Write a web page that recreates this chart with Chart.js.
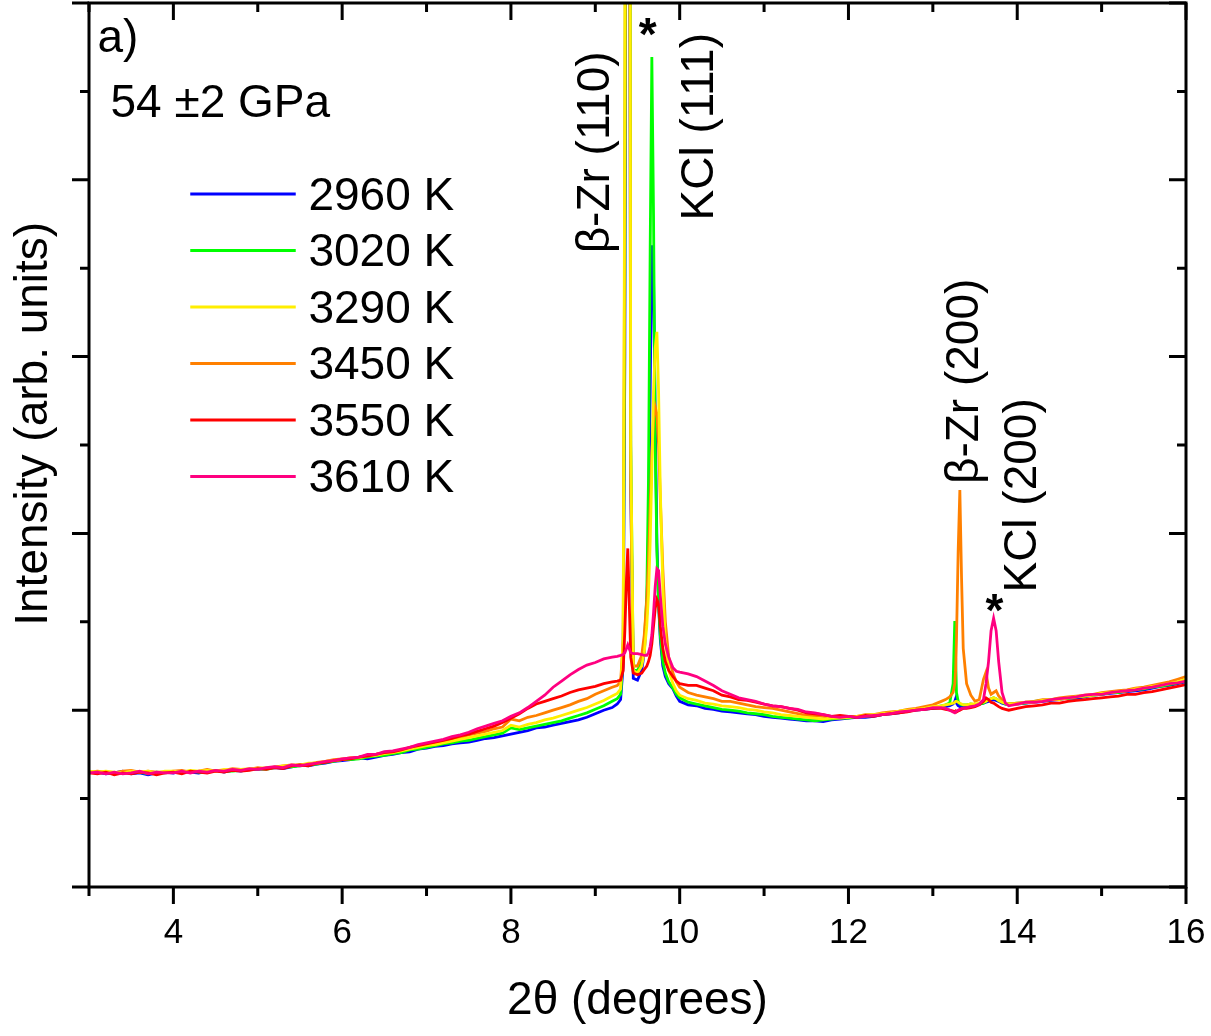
<!DOCTYPE html>
<html>
<head>
<meta charset="utf-8">
<script src="https://cdn.jsdelivr.net/npm/chart.js@4/dist/chart.umd.min.js"></script>
<style>
  html, body { margin: 0; padding: 0; background: #fff; }
  canvas { display: block; }
</style>
</head>
<body>
<canvas id="xrd" width="1211" height="1036"></canvas>
<script>
/* XRD patterns of Zr in KCl at 54 GPa, several temperatures */

const FONT = "'Liberation Sans', Arial, sans-serif";

// 2-theta positions (degrees), shared by all patterns
const twoTheta = [
  3.0, 3.1, 3.2, 3.3, 3.4, 3.5, 3.6, 3.7, 3.8, 3.9,
  4.0, 4.1, 4.2, 4.3, 4.4, 4.5, 4.6, 4.7, 4.8, 4.9,
  5.0, 5.1, 5.2, 5.3, 5.4, 5.5, 5.6, 5.7, 5.8, 5.9,
  6.0, 6.1, 6.2, 6.3, 6.4, 6.5, 6.6, 6.7, 6.8, 6.9,
  7.0, 7.1, 7.2, 7.3, 7.4, 7.5, 7.6, 7.7, 7.8, 7.9,
  8.0, 8.1, 8.2, 8.3, 8.4, 8.5, 8.6, 8.7, 8.8, 8.9,
  9.0, 9.1, 9.2,
  9.26, 9.30, 9.33, 9.35, 9.37, 9.385, 9.40, 9.42, 9.45,
  9.50, 9.55, 9.58, 9.61, 9.63, 9.65, 9.67, 9.69, 9.71, 9.73, 9.75, 9.77, 9.80, 9.83, 9.87, 9.92, 9.96,
  10.0, 10.1, 10.2, 10.3, 10.4, 10.5, 10.6, 10.7, 10.8, 10.9,
  11.0, 11.1, 11.2, 11.3, 11.4, 11.5, 11.6, 11.7, 11.8, 11.9,
  12.0, 12.1, 12.2, 12.3, 12.4, 12.5, 12.6, 12.7, 12.8, 12.9,
  13.0, 13.1,
  13.15, 13.2, 13.24, 13.26, 13.27, 13.28, 13.30, 13.32, 13.34, 13.36, 13.40, 13.45, 13.5, 13.55, 13.6, 13.63, 13.66, 13.69, 13.72, 13.75, 13.78, 13.82, 13.86, 13.9,
  14.0, 14.1, 14.2, 14.3, 14.4, 14.5, 14.6, 14.7, 14.8, 14.9,
  15.0, 15.1, 15.2, 15.3, 15.4, 15.5, 15.6, 15.7, 15.8, 15.9,
  16.0
];

const t2960 = [
  1.29,1.30,1.28,1.29,1.31,1.28,1.29,1.27,1.29,1.30,
  1.29,1.31,1.30,1.29,1.31,1.32,1.30,1.32,1.31,1.33,
  1.33,1.34,1.35,1.34,1.36,1.38,1.37,1.39,1.40,1.42,
  1.43,1.44,1.46,1.45,1.47,1.49,1.50,1.52,1.53,1.56,
  1.57,1.59,1.60,1.62,1.63,1.64,1.66,1.68,1.69,1.71,
  1.73,1.75,1.77,1.80,1.81,1.83,1.85,1.87,1.89,1.92,
  1.96,2.00,2.03,
  2.07,2.12,2.5,6,15,25,15,4.5,2.36,
  2.34,2.45,2.65,3.1,4.0,5.6,7.26,6.9,5.3,3.9,3.2,2.8,2.5,2.38,2.3,2.24,2.16,
  2.10,2.06,2.05,2.02,2.01,1.99,1.98,1.97,1.96,1.95,
  1.93,1.92,1.91,1.90,1.89,1.88,1.88,1.87,1.89,1.90,
  1.91,1.92,1.92,1.93,1.95,1.96,1.97,1.99,2.00,2.01,
  2.02,2.03,
  2.04,2.05,2.07,2.10,2.13,2.08,2.05,2.04,2.04,2.05,2.05,2.06,2.06,2.07,2.08,2.09,2.10,2.11,2.12,2.11,2.10,2.08,2.07,2.07,
  2.07,2.08,2.09,2.10,2.11,2.12,2.14,2.13,2.15,2.17,
  2.18,2.19,2.20,2.21,2.22,2.23,2.25,2.27,2.28,2.30,
  2.32
];

const t3020 = [
  1.30,1.29,1.30,1.28,1.30,1.29,1.30,1.28,1.30,1.29,
  1.30,1.30,1.31,1.30,1.30,1.32,1.31,1.31,1.32,1.33,
  1.34,1.33,1.35,1.36,1.36,1.37,1.38,1.39,1.41,1.42,
  1.44,1.44,1.45,1.47,1.48,1.49,1.51,1.52,1.55,1.56,
  1.58,1.60,1.62,1.63,1.65,1.66,1.68,1.70,1.72,1.74,
  1.80,1.78,1.80,1.82,1.84,1.86,1.88,1.91,1.94,1.97,
  2.01,2.05,2.10,
  2.13,2.18,2.6,7,18,35,20,5,2.45,
  2.45,2.55,2.75,3.3,4.6,7.2,9.39,7.6,5.0,3.8,3.2,2.85,2.55,2.42,2.32,2.25,2.18,
  2.14,2.09,2.07,2.05,2.03,2.01,2.00,1.99,1.97,1.96,
  1.95,1.93,1.92,1.91,1.90,1.89,1.88,1.89,1.90,1.91,
  1.91,1.93,1.93,1.94,1.95,1.97,1.98,1.99,2.01,2.02,
  2.03,2.05,
  2.06,2.08,2.30,3.01,2.60,2.20,2.10,2.07,2.06,2.06,2.06,2.07,2.06,2.07,2.08,2.10,2.12,2.13,2.14,2.13,2.11,2.09,2.07,2.07,
  2.08,2.08,2.10,2.11,2.12,2.13,2.13,2.15,2.16,2.17,
  2.18,2.20,2.20,2.22,2.23,2.24,2.26,2.27,2.29,2.31,
  2.33
];

const t3290 = [
  1.31,1.30,1.31,1.30,1.29,1.31,1.30,1.31,1.29,1.31,
  1.31,1.30,1.32,1.31,1.32,1.31,1.33,1.32,1.33,1.34,
  1.34,1.35,1.35,1.37,1.37,1.38,1.40,1.40,1.42,1.43,
  1.44,1.46,1.46,1.48,1.49,1.51,1.52,1.54,1.56,1.58,
  1.60,1.61,1.63,1.65,1.67,1.69,1.71,1.73,1.75,1.77,
  1.83,1.81,1.84,1.86,1.89,1.91,1.94,1.97,2.00,2.03,
  2.07,2.11,2.16,
  2.19,2.24,2.8,9,22,40,20,5,2.45,
  2.42,2.5,2.65,2.95,3.3,3.9,4.7,5.6,6.1,6.28,5.6,4.5,3.4,2.8,2.45,2.3,2.22,
  2.17,2.13,2.11,2.08,2.07,2.05,2.04,2.03,2.01,2.00,
  1.98,1.97,1.95,1.94,1.93,1.92,1.91,1.90,1.91,1.91,
  1.92,1.93,1.94,1.95,1.96,1.97,1.99,2.00,2.01,2.02,
  2.04,2.05,
  2.06,2.07,2.08,2.09,2.10,2.10,2.09,2.08,2.07,2.06,2.06,2.07,2.07,2.08,2.09,2.10,2.12,2.13,2.14,2.13,2.11,2.09,2.08,2.07,
  2.07,2.09,2.09,2.11,2.12,2.12,2.14,2.15,2.16,2.17,
  2.19,2.20,2.21,2.22,2.24,2.25,2.27,2.28,2.30,2.32,
  2.35
];

const t3450 = [
  1.30,1.31,1.30,1.29,1.31,1.32,1.30,1.31,1.30,1.30,
  1.31,1.32,1.30,1.31,1.33,1.31,1.32,1.34,1.33,1.33,
  1.35,1.34,1.36,1.37,1.38,1.38,1.39,1.41,1.42,1.44,
  1.45,1.46,1.47,1.49,1.50,1.52,1.53,1.55,1.57,1.59,
  1.61,1.63,1.65,1.67,1.69,1.72,1.74,1.76,1.79,1.81,
  1.90,1.88,1.92,1.94,1.97,2.00,2.03,2.06,2.10,2.13,
  2.18,2.22,2.26,
  2.28,2.32,2.8,8,18,30,16,4.5,2.5,
  2.5,2.62,2.85,3.25,3.7,4.3,4.9,5.3,5.43,5.35,5.0,4.4,3.6,3.0,2.6,2.42,2.32,
  2.26,2.20,2.17,2.15,2.13,2.10,2.10,2.08,2.06,2.04,
  2.03,2.02,2.00,1.98,1.96,1.94,1.94,1.93,1.92,1.92,
  1.93,1.93,1.95,1.95,1.97,1.98,1.99,2.01,2.02,2.04,
  2.06,2.10,
  2.12,2.15,2.20,2.30,2.45,2.80,3.80,4.49,3.50,2.70,2.30,2.17,2.10,2.12,2.35,2.43,2.25,2.18,2.20,2.22,2.16,2.12,2.08,2.07,
  2.08,2.09,2.10,2.12,2.12,2.14,2.15,2.16,2.17,2.18,
  2.20,2.21,2.22,2.23,2.25,2.26,2.28,2.30,2.32,2.35,
  2.38
];

const t3550 = [
  1.29,1.28,1.30,1.27,1.29,1.28,1.30,1.29,1.27,1.29,
  1.30,1.28,1.31,1.30,1.29,1.31,1.30,1.32,1.31,1.32,
  1.34,1.33,1.35,1.34,1.37,1.38,1.37,1.40,1.41,1.43,
  1.44,1.45,1.47,1.48,1.50,1.52,1.53,1.55,1.58,1.60,
  1.62,1.64,1.66,1.68,1.71,1.73,1.76,1.79,1.82,1.86,
  1.91,1.96,2.02,2.07,2.10,2.13,2.16,2.20,2.23,2.25,
  2.27,2.30,2.32,
  2.33,2.34,2.45,2.9,3.5,3.83,3.3,2.6,2.42,
  2.40,2.42,2.46,2.5,2.55,2.62,2.75,2.95,3.15,3.25,3.2,2.95,2.7,2.55,2.45,2.38,2.33,
  2.30,2.28,2.28,2.25,2.22,2.17,2.15,2.12,2.11,2.09,
  2.07,2.05,2.04,2.02,2.00,1.97,1.96,1.95,1.93,1.94,
  1.93,1.92,1.94,1.93,1.95,1.96,1.97,1.98,2.00,2.01,
  2.02,2.02,
  2.01,2.00,1.99,1.98,1.99,1.98,1.99,2.00,2.01,2.02,2.02,2.03,2.04,2.06,2.10,2.14,2.12,2.09,2.08,2.06,2.04,2.02,2.01,2.00,
  2.02,2.04,2.05,2.06,2.08,2.08,2.10,2.11,2.12,2.13,
  2.14,2.15,2.16,2.18,2.18,2.20,2.21,2.23,2.25,2.27,
  2.29
];

const t3610 = [
  1.29,1.30,1.28,1.30,1.28,1.29,1.31,1.28,1.30,1.29,
  1.29,1.31,1.29,1.31,1.30,1.32,1.31,1.33,1.32,1.34,
  1.33,1.35,1.36,1.35,1.38,1.37,1.39,1.40,1.42,1.43,
  1.45,1.46,1.47,1.50,1.50,1.53,1.54,1.56,1.58,1.61,
  1.63,1.65,1.67,1.70,1.72,1.75,1.79,1.82,1.85,1.88,
  1.93,1.97,2.03,2.10,2.17,2.26,2.33,2.40,2.46,2.51,
  2.54,2.58,2.60,
  2.61,2.62,2.63,2.65,2.7,2.74,2.7,2.65,2.64,
  2.64,2.63,2.62,2.62,2.65,2.72,2.85,3.1,3.4,3.6,3.58,3.3,2.95,2.75,2.6,2.48,2.44,
  2.43,2.41,2.38,2.33,2.28,2.22,2.18,2.14,2.12,2.10,
  2.07,2.05,2.04,2.02,2.01,1.98,1.97,1.95,1.93,1.92,
  1.93,1.92,1.93,1.94,1.95,1.96,1.98,1.99,2.00,2.01,
  2.03,2.03,
  2.02,2.00,1.98,1.97,1.98,1.99,2.00,2.01,2.02,2.02,2.03,2.04,2.05,2.07,2.12,2.30,2.55,2.90,3.04,2.90,2.55,2.20,2.08,2.05,
  2.07,2.09,2.09,2.10,2.12,2.13,2.14,2.15,2.17,2.18,
  2.18,2.20,2.21,2.22,2.23,2.25,2.26,2.28,2.30,2.31,
  2.33
];

const seriesLabels = ['2960 K', '3020 K', '3290 K', '3450 K', '3550 K', '3610 K'];
const seriesValues = [t2960, t3020, t3290, t3450, t3550, t3610];
const seriesColors = ['#0000ff', '#00ff00', '#ffee00', '#ff8000', '#ff0000', '#ff0080'];
// stacking: lower = drawn later (on top)
const seriesOrder = [6, 5, 3, 4, 2, 1];

// peak labels, placed in data units (rotated ones are anchored on their baseline)
const peakLabels = [
  { text: 'β-Zr (110)', x: 9.16, y: 8.31, rot: true },
  { text: 'KCl (111)', x: 10.39, y: 8.60, rot: true },
  { text: 'β-Zr (200)', x: 13.53, y: 5.72, rot: true },
  { text: 'KCl (200)', x: 14.22, y: 4.43, rot: true },
  { text: '*', x: 9.62, y: 9.47, bold: true },
  { text: '*', x: 13.73, y: 2.95, bold: true },
  { text: 'a)', x: 3.10, y: 9.45, left: true },
  { text: '54 ±2 GPa', x: 3.255, y: 8.71, left: true }
];

seriesValues.forEach((s, i) => {
  if (s.length !== twoTheta.length) throw new Error(seriesLabels[i] + ': ' + s.length + ' vs ' + twoTheta.length);
});

const decorPlugin = {
  id: 'decor',
  afterDatasetsDraw(chart) {
    const { ctx, chartArea: a, scales: { x, y } } = chart;
    ctx.save();

    // frame + ticks (major at even, minor at odd)
    ctx.strokeStyle = '#000';
    ctx.lineWidth = 3;
    ctx.strokeRect(a.left, a.top, a.right - a.left, a.bottom - a.top);
    ctx.beginPath();
    for (let v = 3; v <= 16; v++) {
      const px = x.getPixelForValue(v);
      const len = v % 2 === 0 ? 17 : 9;
      ctx.moveTo(px, a.bottom); ctx.lineTo(px, a.bottom + len);
      ctx.moveTo(px, a.top); ctx.lineTo(px, a.top + len);
    }
    for (let v = 0; v <= 10; v++) {
      const py = y.getPixelForValue(v);
      const len = v % 2 === 0 ? 17 : 9;
      ctx.moveTo(a.left - len, py); ctx.lineTo(a.left, py);
      ctx.moveTo(a.right, py); ctx.lineTo(a.right - len, py);
    }
    ctx.stroke();

    // y-axis title
    ctx.fillStyle = '#000';
    ctx.font = `46px ${FONT}`;
    ctx.textAlign = 'center';
    ctx.textBaseline = 'alphabetic';
    ctx.save();
    ctx.translate(a.left - 42, y.getPixelForValue(5.24));
    ctx.rotate(-Math.PI / 2);
    ctx.fillText('Intensity (arb. units)', 0, 0);
    ctx.restore();

    // peak labels and panel text
    peakLabels.forEach(l => {
      const px = x.getPixelForValue(l.x);
      const py = y.getPixelForValue(l.y);
      ctx.font = `${l.bold ? 'bold ' : ''}46px ${FONT}`;
      ctx.textAlign = l.left ? 'left' : 'center';
      if (l.rot) {
        ctx.save();
        ctx.translate(px, py);
        ctx.rotate(-Math.PI / 2);
        ctx.fillText(l.text, 0, 0);
        ctx.restore();
      } else {
        ctx.fillText(l.text, px, py);
      }
    });

    // legend
    const x0 = x.getPixelForValue(4.2), x1 = x.getPixelForValue(5.45), xt = x.getPixelForValue(5.6);
    const row0 = y.getPixelForValue(7.84);
    ctx.font = `46px ${FONT}`;
    ctx.textAlign = 'left';
    ctx.lineWidth = 3;
    seriesLabels.forEach((lab, i) => {
      const ry = row0 + i * 56.5;
      ctx.strokeStyle = seriesColors[i];
      ctx.beginPath(); ctx.moveTo(x0, ry); ctx.lineTo(x1, ry); ctx.stroke();
      ctx.fillText(lab, xt, ry + 16);
    });
    ctx.restore();
  }
};

new Chart(document.getElementById('xrd'), {
  type: 'line',
  data: {
    datasets: seriesValues.map((vals, i) => ({
      label: seriesLabels[i],
      data: vals.map((v, k) => ({ x: twoTheta[k], y: v })),
      borderColor: seriesColors[i],
      borderWidth: 2.8,
      pointRadius: 0,
      tension: 0,
      fill: false,
      order: seriesOrder[i]
    }))
  },
  options: {
    responsive: false,
    devicePixelRatio: 1,
    animation: false,
    layout: { padding: { top: 3, right: 25, left: 0, bottom: 0 } },
    plugins: { legend: { display: false }, tooltip: { enabled: false } },
    scales: {
      x: {
        type: 'linear', min: 3, max: 16,
        grid: { display: false, drawTicks: false },
        border: { display: false },
        ticks: {
          stepSize: 1, autoSkip: false, maxRotation: 0, padding: 25,
          color: '#000', font: { family: FONT, size: 35 },
          callback: v => (v % 2 === 0 ? v : '')
        },
        title: {
          display: true, text: '2θ (degrees)', color: '#000',
          font: { family: FONT, size: 46 }, padding: { top: 0, bottom: 7 }
        },
        afterFit: s => { s.height = 149; s.paddingLeft = 0; s.paddingRight = 0; }
      },
      y: {
        type: 'linear', min: 0, max: 10,
        grid: { display: false, drawTicks: false },
        border: { display: false },
        ticks: { display: false },
        afterFit: s => { s.width = 89; }
      }
    }
  },
  plugins: [decorPlugin]
});
</script>
</body>
</html>
